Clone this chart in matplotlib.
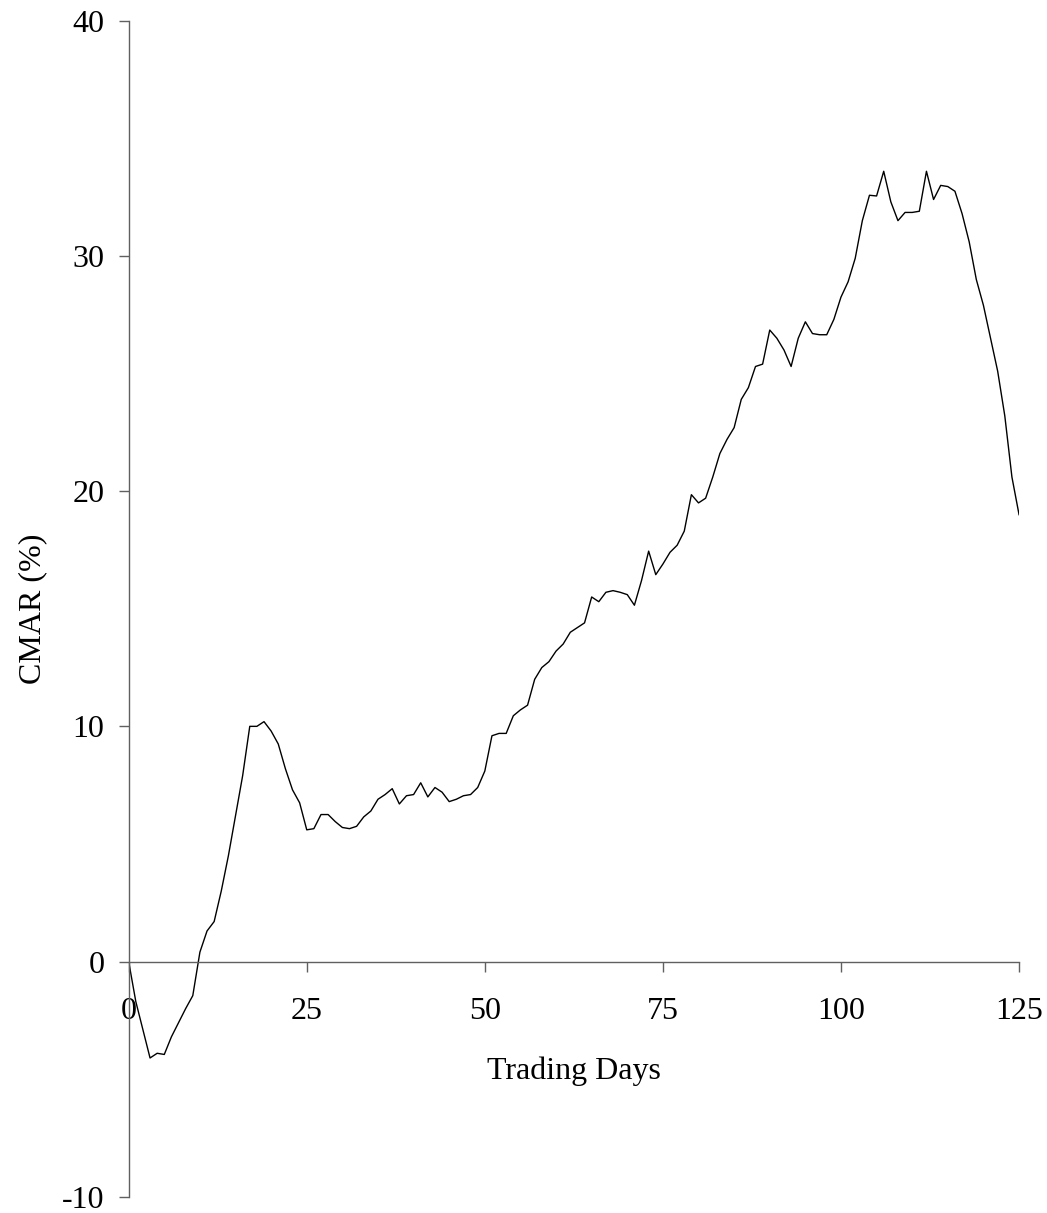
import matplotlib
matplotlib.use('Agg')
import matplotlib.pyplot as plt

plt.rcParams['font.family'] = ['Liberation Serif', 'DejaVu Serif']
plt.rcParams['font.size'] = 23
plt.rcParams['axes.unicode_minus'] = False

# CMAR (%), one value per trading day (0..125)
DAYS = list(range(126))
CMAR = [
    0.0, -1.7, -2.9, -4.1, -3.9, -3.95, -3.2, -2.6, -2.0, -1.45,
    0.4, 1.3, 1.7, 3.0, 4.5, 6.2, 7.9, 10.0, 10.0, 10.2,
    9.8, 9.25, 8.2, 7.3, 6.75, 5.6, 5.65, 6.25, 6.25, 5.95,
    5.7, 5.65, 5.75, 6.15, 6.4, 6.9, 7.1, 7.35, 6.7, 7.05,
    7.1, 7.6, 7.0, 7.4, 7.2, 6.8, 6.9, 7.05, 7.1, 7.4,
    8.1, 9.6, 9.7, 9.7, 10.45, 10.7, 10.9, 12.0, 12.5, 12.75,
    13.2, 13.5, 14.0, 14.2, 14.4, 15.5, 15.3, 15.7, 15.77, 15.7,
    15.6, 15.15, 16.2, 17.45, 16.45, 16.9, 17.4, 17.7, 18.3, 19.85,
    19.5, 19.7, 20.6, 21.6, 22.2, 22.7, 23.9, 24.4, 25.3, 25.4,
    26.85, 26.5, 26.0, 25.3, 26.5, 27.2, 26.7, 26.65, 26.65, 27.3,
    28.25, 28.9, 29.9, 31.5, 32.58, 32.55, 33.6, 32.3, 31.5, 31.85,
    31.85, 31.9, 33.6, 32.4, 33.0, 32.95, 32.75, 31.8, 30.6, 29.0,
    27.9, 26.5, 25.1, 23.2, 20.6, 19.0,
]
X_TICKS = [0, 25, 50, 75, 100, 125]
Y_TICKS = [-10, 0, 10, 20, 30, 40]

fig = plt.figure(figsize=(10.47, 12.13), dpi=100)
ax = fig.add_axes([0.1229, 0.0134, 0.8504, 0.9695])

ax.plot(DAYS, CMAR, color='black', linewidth=1.0, solid_joinstyle='round')

ax.set_xlim(0, 125)
ax.set_ylim(-10, 40)
ax.set_xticks(X_TICKS)
ax.set_yticks(Y_TICKS)

ax.spines['top'].set_visible(False)
ax.spines['right'].set_visible(False)
ax.spines['bottom'].set_position(('data', 0))
for s in ['left', 'bottom']:
    ax.spines[s].set_color('#606060')
    ax.spines[s].set_linewidth(1.0)

ax.tick_params(axis='x', direction='out', length=7.5, width=1.0, color='#606060', pad=18)
ax.tick_params(axis='y', direction='out', length=7.5, width=1.0, color='#606060', pad=10)

ax.set_xlabel('Trading Days')
ax.xaxis.set_label_coords(0.5, 0.119)
ax.set_ylabel('CMAR (%)')
ax.yaxis.set_label_coords(-0.091, 0.5)

fig.savefig('out.png', dpi=100)
